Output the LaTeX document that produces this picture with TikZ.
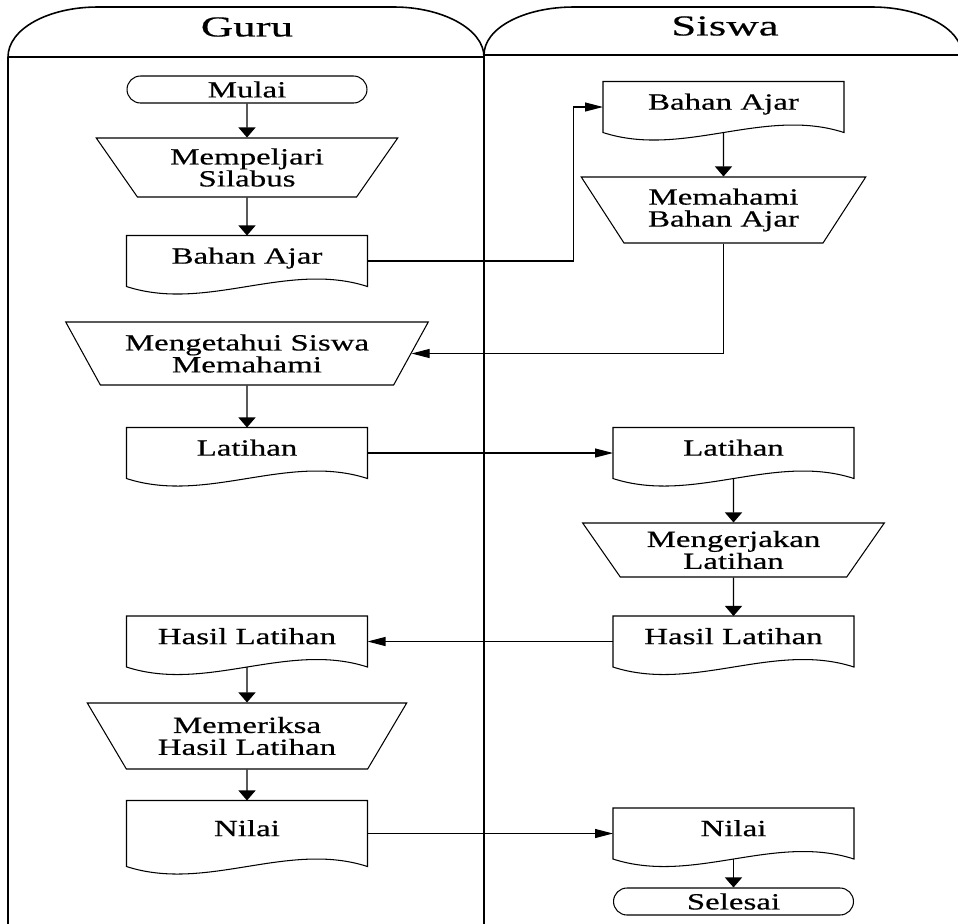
\documentclass[tikz,border=0pt]{standalone}
\usepackage{fontspec}
\usetikzlibrary{shapes.geometric,arrows.meta}
\newfontfamily\lanefont[FakeStretch=1.42, FakeBold=0.5]{Liberation Serif}
\newfontfamily\headfont[FakeStretch=1.55, FakeBold=0.4]{Liberation Serif}
\begin{document}
\begin{tikzpicture}[x=0.02cm, y=-0.02cm, line width=0.6pt,
	every node/.style={font=\lanefont\fontsize{13.2}{12.5}\selectfont, align=center},
	lane/.style={line width=0.9pt},
	term/.style={draw, rounded corners=0.27cm, minimum width=4.8cm, minimum height=0.54cm, inner sep=0pt},
	manual/.style={draw, trapezium, trapezium angle=53, trapezium stretches=true, shape border rotate=180, inner sep=0pt},
	doc/.style={minimum width=4.8cm, minimum height=1cm, inner sep=0pt, text height=9pt, text depth=6pt},
	vflow/.style={-{Triangle[length=0.2cm, width=0.34cm]}},
	hflow/.style={-{Triangle[length=0.36cm, width=0.18cm]}}]
	\useasboundingbox (0,0) rectangle (958,924);

	\draw[lane] (8,924) -- (8,57) .. controls (8,29) and (48,7) .. (98,7) -- (394,7) .. controls (442,7) and (484,29) .. (484,57) -- (484,924);
	\draw[lane] (8,57) -- (484,57);
	\draw[lane] (484,924) -- (484,55) .. controls (484,28) and (524,7) .. (574,7) -- (872,7) .. controls (920,7) and (962,28) .. (962,55) -- (962,924);
	\draw[lane] (484,55) -- (962,55);
	\node[font=\headfont\fontsize{16.5}{18}\selectfont] (guru) at (247,27) {Guru};
	\node[font=\headfont\fontsize{16.5}{18}\selectfont] (siswa) at (725,26) {Siswa};

	\node[term] (mulai) at (247,89.5) {Mulai};
	\node[manual, minimum width=6.04cm, minimum height=1.18cm] (pelajari) at (247,167.5) {Mempeljari\\Silabus};
	\node[doc] (ajar1) at (247,261) {Bahan Ajar};
	\node[manual, minimum width=7.26cm, minimum height=1.26cm] (mengetahui) at (247,353.5) {Mengetahui Siswa\\Memahami};
	\node[doc] (latihan1) at (247,453) {Latihan};
	\node[doc] (hasil1) at (247,641.5) {Hasil Latihan};
	\node[manual, minimum width=6.4cm, minimum height=1.32cm] (periksa) at (247,736) {Memeriksa\\Hasil Latihan};
	\node[doc, minimum height=1.3cm] (nilai1) at (247,833.5) {Nilai};

	\node[doc] (ajar2) at (723.5,107) {Bahan Ajar};
	\node[manual, minimum width=5.7cm, minimum height=1.32cm] (pahami) at (723.5,210) {Memahami\\Bahan Ajar};
	\node[doc] (latihan2) at (733.5,453) {Latihan};
	\node[manual, minimum width=6.04cm, minimum height=1.08cm] (kerjakan) at (733.5,550) {Mengerjakan\\Latihan};
	\node[doc] (hasil2) at (733.5,641.5) {Hasil Latihan};
	\node[doc] (nilai2) at (733.5,833.5) {Nilai};
	\node[term] (selesai) at (733.5,901.5) {Selesai};

	\foreach \d in {ajar1,latihan1,hasil1,nilai1,ajar2,latihan2,hasil2,nilai2}
		\draw (\d.north west) -- (\d.north east) -- (\d.south east) .. controls +(-80,-26) and +(80,26) .. (\d.south west) -- cycle;

	\draw[vflow] (mulai) -- (pelajari);
	\draw[vflow] (pelajari) -- (ajar1);
	\draw[hflow] (ajar1.east) -- ++(206,0) |- (ajar2.west);
	\draw[vflow] (ajar2.south) -- (pahami);
	\draw[hflow] (pahami.south) |- (mengetahui.east);
	\draw[vflow] (mengetahui) -- (latihan1);
	\draw[hflow] (latihan1.east) -- (latihan2.west);
	\draw[vflow] (latihan2.south) -- (kerjakan);
	\draw[vflow] (kerjakan) -- (hasil2);
	\draw[hflow] (hasil2.west) -- (hasil1.east);
	\draw[vflow] (hasil1.south) -- (periksa);
	\draw[vflow] (periksa) -- (nilai1);
	\draw[hflow] (nilai1.east) -- (nilai2.west);
	\draw[vflow] (nilai2.south) -- (selesai);
\end{tikzpicture}
\end{document}
